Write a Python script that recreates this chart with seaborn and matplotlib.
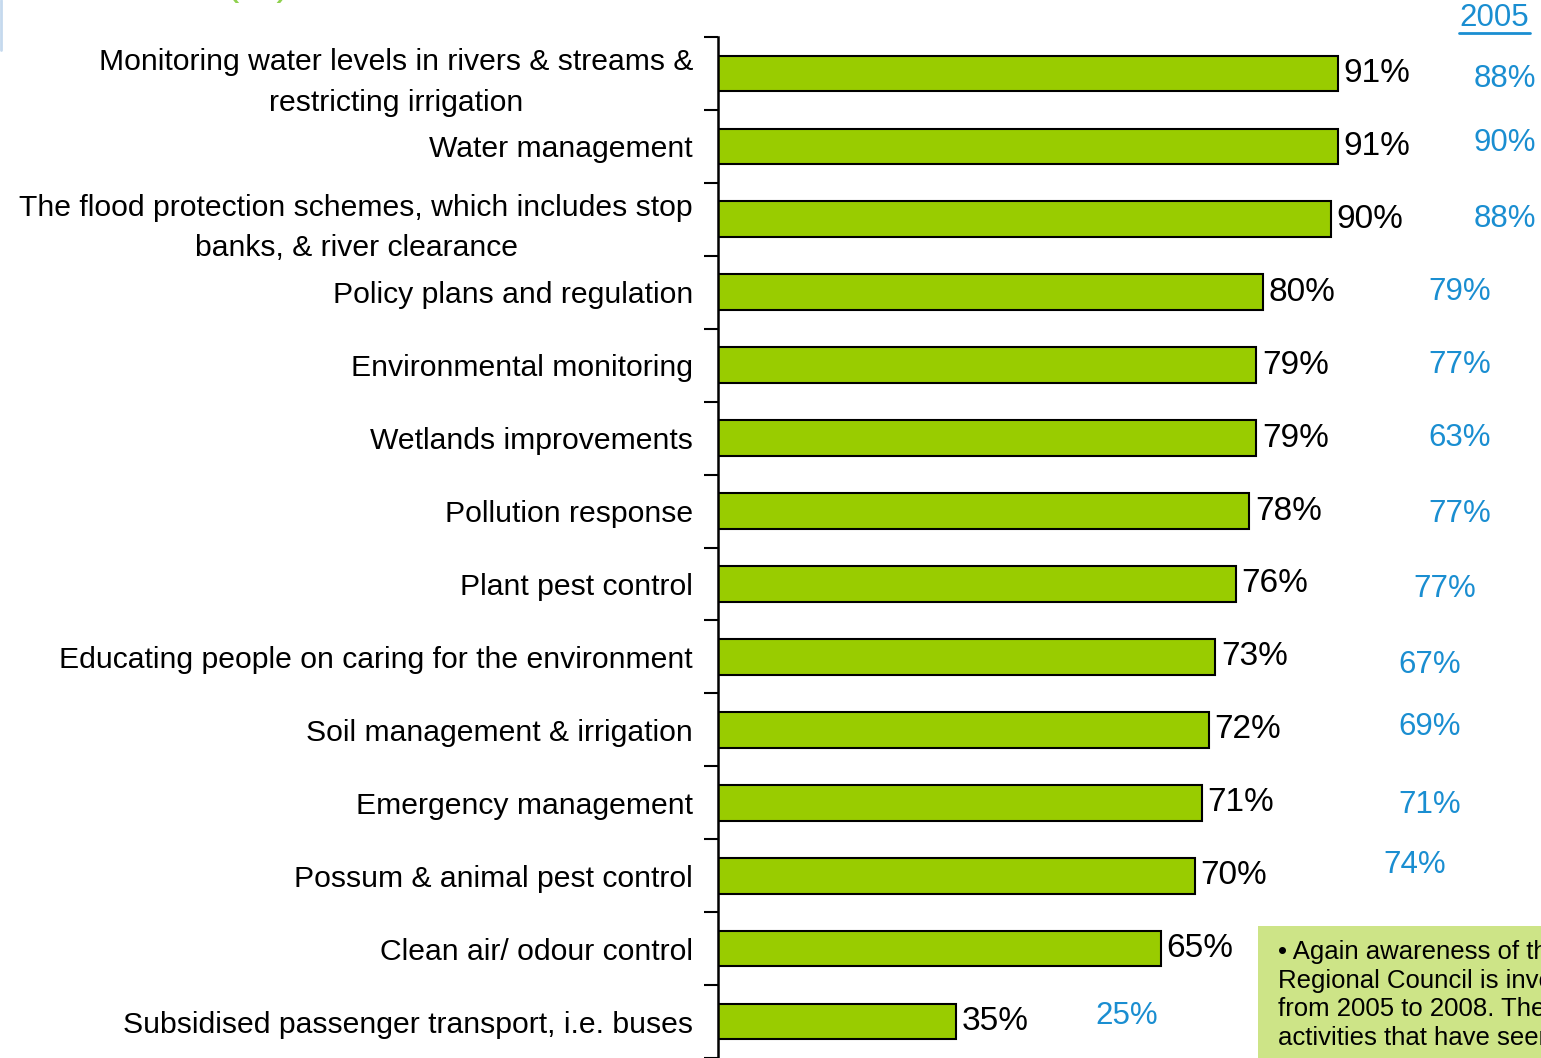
import numpy as np
import pandas as pd
import matplotlib
matplotlib.use("Agg")
import matplotlib.pyplot as plt
from matplotlib.lines import Line2D
from matplotlib.patches import Rectangle
import seaborn as sns

# data
activities = [
    "Monitoring water levels in rivers & streams &\nrestricting irrigation",
    "Water management",
    "The flood protection schemes, which includes stop\nbanks, & river clearance",
    "Policy plans and regulation",
    "Environmental monitoring",
    "Wetlands improvements",
    "Pollution response",
    "Plant pest control",
    "Educating people on caring for the environment",
    "Soil management & irrigation",
    "Emergency management",
    "Possum & animal pest control",
    "Clean air/ odour control",
    "Subsidised passenger transport, i.e. buses",
]
pct_2008 = [91, 91, 90, 80, 79, 79, 78, 76, 73, 72, 71, 70, 65, 35]
pct_2005 = [88, 90, 88, 79, 77, 63, 77, 77, 67, 69, 71, 74, None, 25]

# where the 2005 numbers sit on the slide (x in % units, y nudge in rows)
x_2005 = [115.5, 115.5, 115.5, 108.9, 108.9, 108.9, 108.9, 106.6, 104.5, 104.5, 104.5, 102.2, None, 60.0]
dy_2005 = [0.07, -0.05, 0.0, 0.0, 0.0, 0.0, 0.04, 0.07, 0.11, -0.04, 0.03, -0.15, 0, -0.07]

green = "#99cc00"
blue = "#1a8ed1"

df = pd.DataFrame({"activity": activities, "pct": pct_2008})

sns.set_style("white")
plt.rcParams["font.family"] = ["Liberation Sans", "DejaVu Sans"]

fig = plt.figure(figsize=(15.41, 10.58), dpi=100)
ax = fig.add_axes([718 / 1541, 0, 823 / 1541, 1021 / 1058])

sns.barplot(data=df, x="pct", y="activity", orient="h", color=green,
            saturation=1, edgecolor="black", linewidth=1.5, width=0.49, ax=ax)

ax.set_xlim(0, 823 / 6.813)
ax.set_ylim(13.5, -0.5)
ax.set_xlabel("")
ax.set_ylabel("")
ax.xaxis.set_visible(False)
for s in ["top", "right", "bottom"]:
    ax.spines[s].set_visible(False)
ax.spines["left"].set_linewidth(1.8)
ax.spines["left"].set_color("black")

ax.set_yticks(range(len(activities)))
ax.set_yticklabels(activities, fontsize=21.7, linespacing=1.55,
                   multialignment="center", color="black")
ax.tick_params(axis="y", which="major", length=0, pad=18)
ax.set_yticks(np.arange(-0.5, len(activities)), minor=True)
ax.tick_params(axis="y", which="minor", length=10, width=1.5, color="black", left=True)

ax.bar_label(ax.containers[0], labels=[f"{v}%" for v in pct_2008],
             padding=4, fontsize=24, color="black")

# 2005 comparison figures
for i, v in enumerate(pct_2005):
    if v is None:
        continue
    ax.text(x_2005[i], i + dy_2005[i], f"{v}%", color=blue, fontsize=22.5,
            ha="center", va="center")

fig.text(1494 / 1541, 1 - 18 / 1058, "2005", color=blue, fontsize=22.5,
         ha="center", va="center")
fig.add_artist(Line2D([1459 / 1541, 1530 / 1541], [1 - 33 / 1058, 1 - 33 / 1058],
                      color=blue, linewidth=2, transform=fig.transFigure))

# clipped title from the slide above
fig.text(290 / 1541, 1 + 6 / 1058, "Awareness increase (%)", color="#8fd14f",
         fontsize=30, ha="right", va="baseline")
fig.add_artist(Line2D([1 / 1541, 1 / 1541], [1, 1 - 50 / 1058],
                      color="#c5d9ee", linewidth=2, transform=fig.transFigure))

# comment box at bottom right
fig.add_artist(Rectangle((1258 / 1541, 0), 300 / 1541, 132 / 1058,
                         facecolor="#cde487", edgecolor="none",
                         transform=fig.transFigure))
note = ("\u2022 Again awareness of the\n"
        "Regional Council is involved\n"
        "from 2005 to 2008. The\n"
        "activities that have seen")
fig.text(1278 / 1541, 1 - 940 / 1058, note, fontsize=18.5, va="top",
         ha="left", linespacing=1.25, color="black")

fig.savefig("out.png", dpi=100)
